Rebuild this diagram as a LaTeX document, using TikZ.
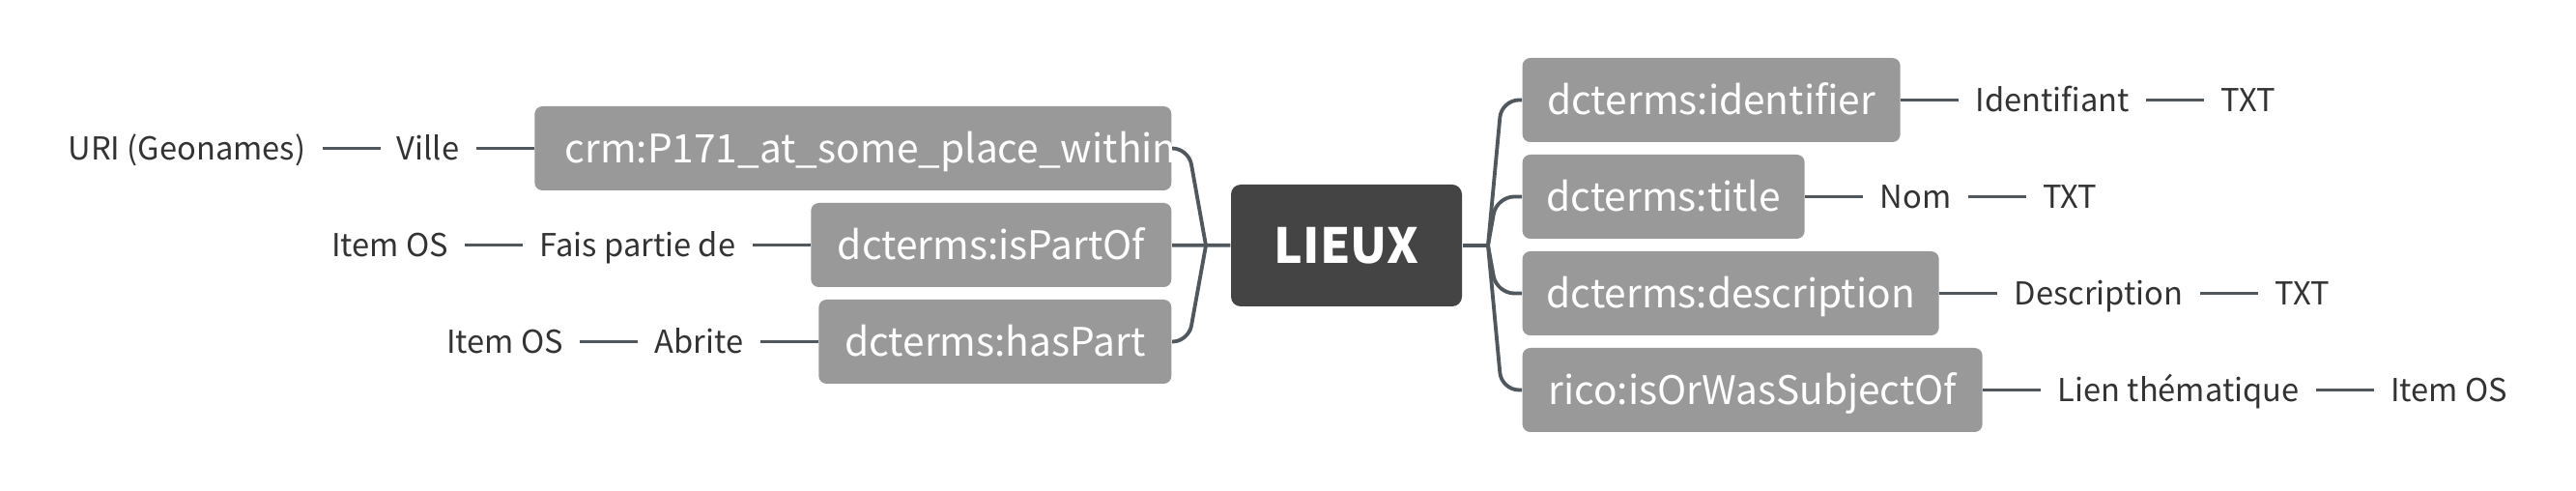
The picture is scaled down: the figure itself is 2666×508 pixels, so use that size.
\documentclass[tikz,border=0pt]{standalone}
\usepackage{fontspec}
\newfontfamily\notosans{Noto Sans CJK SC}
\usetikzlibrary{positioning,calc}
\definecolor{grisprop}{HTML}{999999}
\definecolor{grisracine}{HTML}{444444}
\definecolor{grislien}{HTML}{50585E}
\definecolor{gristexte}{HTML}{333333}
\tikzset{
    racine/.style={fill=grisracine, text=white, rounded corners=3pt, inner sep=0pt,
      minimum width=71.7pt, minimum height=37.8pt,
      font=\notosans\bfseries\fontsize{15}{18}\selectfont, text height=11pt, text depth=0pt},
    prop/.style={fill=grisprop, text=white, rounded corners=2.4pt, inner sep=0pt,
      minimum height=26.1pt,
      font=\notosans\fontsize{12.2}{15}\selectfont, text height=8.9pt, text depth=0pt},
    etiq/.style={text=gristexte, inner xsep=5pt, inner ysep=0pt,
      font=\notosans\fontsize{9.8}{12}\selectfont, text height=7.2pt, text depth=0pt},
    lien/.style={draw=grislien, line width=1.15pt},
  }
\begin{document}
\begin{tikzpicture}[x=0.3pt,y=-0.3pt]
  \useasboundingbox (0,0) rectangle (2666,508);

  %LIEUX
  \node[racine] (lieux) at (1393.5,254) {LIEUX};
  \coordinate (jg) at (1248,254);
  \coordinate (jd) at (1540,254);

  %proprietes a gauche
  \node[prop, anchor=east, minimum width=197.7pt,
    path picture={\node[anchor=west, inner sep=0pt, text=white,
      font=\notosans\fontsize{12.2}{15}\selectfont, text height=8.9pt, text depth=0pt]
      at ([xshift=5.3pt]path picture bounding box.west) {crm:P171\_at\_some\_place\_within};}]
    (crm) at (1213,153.5) {};
  \node[prop, anchor=east, minimum width=111.9pt] (partof) at (1213,253.5) {dcterms:isPartOf};
  \node[prop, anchor=east, minimum width=109.5pt] (haspart) at (1213,353.5) {dcterms:hasPart};

  %proprietes a droite
  \node[prop, anchor=west, minimum width=117.3pt] (identifier) at (1575,103.5) {dcterms:identifier};
  \node[prop, anchor=west, minimum width=87.6pt] (title) at (1575,203.5) {dcterms:title};
  \node[prop, anchor=west, minimum width=129.3pt] (description) at (1575,303.5) {dcterms:description};
  \node[prop, anchor=west, minimum width=142.8pt] (subject) at (1575,403.5) {rico:isOrWasSubjectOf};

  %branches
  \draw[lien] (lieux) -- (partof);
  \draw[lien] (lieux) -- (jd);
  \draw[lien, rounded corners=5pt] (jg) -- (1230,153.5) -- (crm.east);
  \draw[lien, rounded corners=5pt] (jg) -- (1230,353.5) -- (haspart.east);
  \draw[lien, rounded corners=5.4pt] (jd) -- (1554,103.5) -- (identifier.west);
  \draw[lien, rounded corners=5.4pt] (jd) -- (1549,203.5) -- (title.west);
  \draw[lien, rounded corners=5.4pt] (jd) -- (1549,303.5) -- (description.west);
  \draw[lien, rounded corners=5.4pt] (jd) -- (1554,403.5) -- (subject.west);

  %etiquettes gauche
  \node[etiq, left=18pt of crm] (ville) {Ville};
  \node[etiq, left=18pt of ville] (uri) {URI (Geonames)};
  \node[etiq, left=18pt of partof] (fais) {Fais partie de};
  \node[etiq, left=18pt of fais] (itemA) {Item OS};
  \node[etiq, left=18pt of haspart] (abrite) {Abrite};
  \node[etiq, left=18pt of abrite] (itemB) {Item OS};
  \draw[lien] (crm) -- (ville);
  \draw[lien] (ville) -- (uri);
  \draw[lien] (partof) -- (fais);
  \draw[lien] (fais) -- (itemA);
  \draw[lien] (haspart) -- (abrite);
  \draw[lien] (abrite) -- (itemB);

  %etiquettes droite
  \node[etiq, right=18pt of identifier] (identifiant) {Identifiant};
  \node[etiq, right=18pt of identifiant] (txtA) {TXT};
  \node[etiq, right=18pt of title] (nom) {Nom};
  \node[etiq, right=18pt of nom] (txtB) {TXT};
  \node[etiq, right=18pt of description] (descr) {Description};
  \node[etiq, right=18pt of descr] (txtC) {TXT};
  \node[etiq, right=18pt of subject] (lienth) {Lien thématique};
  \node[etiq, right=18pt of lienth] (itemC) {Item OS};
  \draw[lien] (identifier) -- (identifiant);
  \draw[lien] (identifiant) -- (txtA);
  \draw[lien] (title) -- (nom);
  \draw[lien] (nom) -- (txtB);
  \draw[lien] (description) -- (descr);
  \draw[lien] (descr) -- (txtC);
  \draw[lien] (subject) -- (lienth);
  \draw[lien] (lienth) -- (itemC);
\end{tikzpicture}
\end{document}
